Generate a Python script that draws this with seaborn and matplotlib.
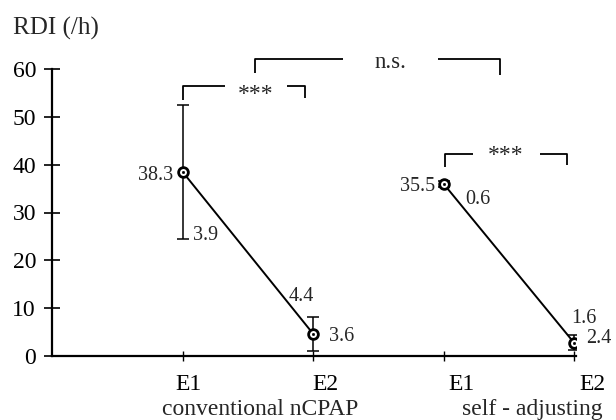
import numpy as np
import pandas as pd
import matplotlib
matplotlib.use("Agg")
import matplotlib.pyplot as plt
import seaborn as sns
from matplotlib.transforms import ScaledTranslation

# ---------------- data ----------------
groups = ["conventional nCPAP", "conventional nCPAP", "self - adjusting", "self - adjusting"]
sessions = ["E1", "E2", "E1", "E2"]
rdi_mean = [38.4, 4.6, 36.0, 2.8]
rdi_sd = [14.0, 3.6, 0.6, 1.5]
mean_labels = ["38.3", "4.4", "35.5", "1.6"]
sd_labels = ["3.9", "3.6", "0.6", "2.4"]
group_names = ["conventional nCPAP", "self - adjusting"]
y_ticks = [0, 10, 20, 30, 40, 50, 60]
sig_labels = ["***", "n.s.", "***"]

positions = np.arange(len(sessions))
df = pd.DataFrame({"pos": positions, "rdi": rdi_mean, "sd": rdi_sd,
                   "group": groups, "session": sessions})

# ---------------- style ----------------
sns.set_theme(style="white")
plt.rcParams["font.family"] = ["Liberation Serif", "DejaVu Serif"]

W, H = 616, 420
fig = plt.figure(figsize=(W / 100, H / 100), dpi=100)
fig.patch.set_facecolor("white")
ax = fig.add_axes([52 / W, 64 / H, 524 / W, 287 / H])
ax.set_facecolor("white")

ax.errorbar(df["pos"], df["rdi"], yerr=df["sd"], fmt="none", ecolor="black",
            elinewidth=1.1, capsize=4, capthick=1.1, zorder=2)
sns.lineplot(data=df, x="pos", y="rdi", units="group", estimator=None,
             color="black", lw=1.4, marker="o", markersize=7,
             markerfacecolor="white", markeredgecolor="black",
             markeredgewidth=2.0, legend=False, ax=ax, zorder=3)
sns.scatterplot(data=df, x="pos", y="rdi", s=4, color="black",
                edgecolor="black", legend=False, ax=ax, zorder=4)

ax.set_xlim(-1.005, 3.016)
ax.set_ylim(0, 60)
ax.set_xlabel("")
ax.set_ylabel("")
ax.set_yticks(y_ticks)
ax.set_xticks(positions, labels=sessions)
ax.tick_params(axis="y", left=True, direction="inout", length=11, width=1.2,
               pad=6, labelsize=17, colors="black")
ax.tick_params(axis="x", bottom=True, direction="inout", length=7, width=1.0,
               pad=9.5, labelsize=17, colors="black")
for lbl, dx in zip(ax.get_xticklabels(), [6, 12, 18, 19]):
    lbl.set_transform(lbl.get_transform() + ScaledTranslation(dx / 100, 0, fig.dpi_scale_trans))

for s in ["top", "right"]:
    ax.spines[s].set_visible(False)
for s in ["left", "bottom"]:
    ax.spines[s].set_color("black")
    ax.spines[s].set_linewidth(1.6)

# value labels (offsets in pixels)
mean_style = [(-10, -8, "right"), (1, 33, "right"), (-8, -7, "right"), (-3, 20, "left")]
sd_style = [(10, -1, "left", "low"), (16, -7, "left", "mid"), (22, -20, "left", "mid"), (12, 0, "left", "mid")]
for i in range(len(sessions)):
    dx, dy, ha = mean_style[i]
    ax.annotate(mean_labels[i], xy=(positions[i], rdi_mean[i]), xytext=(dx, dy),
                textcoords="offset pixels", ha=ha, va="baseline", fontsize=14.5,
                annotation_clip=False)
    dx, dy, ha, ref = sd_style[i]
    yref = rdi_mean[i] - rdi_sd[i] if ref == "low" else rdi_mean[i]
    ax.annotate(sd_labels[i], xy=(positions[i], yref), xytext=(dx, dy),
                textcoords="offset pixels", ha=ha, va="baseline", fontsize=14.5,
                annotation_clip=False)

# group labels
for gx, name in zip([0.59, 2.68], group_names):
    ax.annotate(name, xy=(gx, 0), xytext=(0, -59), textcoords="offset pixels",
                ha="center", va="baseline", fontsize=17, annotation_clip=False)

# significance brackets
lk = dict(color="black", lw=1.3, clip_on=False, solid_capstyle="butt")
# conventional ***
ax.plot([0, 0, 0.32], [53.5, 56.4, 56.4], **lk)
ax.plot([0.80, 0.94, 0.94], [56.4, 56.4, 53.9], **lk)
ax.text(0.56, 53.6, sig_labels[0], ha="center", va="baseline", fontsize=17)
# n.s.
ax.plot([0.553, 0.553, 1.228], [59.2, 62.1, 62.1], **lk)
ax.plot([1.957, 2.433, 2.433], [62.1, 62.1, 58.7], **lk)
ax.text(1.589, 60.2, sig_labels[1], ha="center", va="baseline", fontsize=16.5)
# self-adjusting ***
ax.plot([2.011, 2.011, 2.226], [39.5, 42.2, 42.2], **lk)
ax.plot([2.74, 2.947, 2.947], [42.2, 42.2, 39.9], **lk)
ax.text(2.479, 40.8, sig_labels[2], ha="center", va="baseline", fontsize=17)

fig.text(13 / W, 1 - 35 / H, "RDI (/h)", ha="left", va="baseline", fontsize=18)

fig.savefig("out.png", dpi=100, facecolor="white")
